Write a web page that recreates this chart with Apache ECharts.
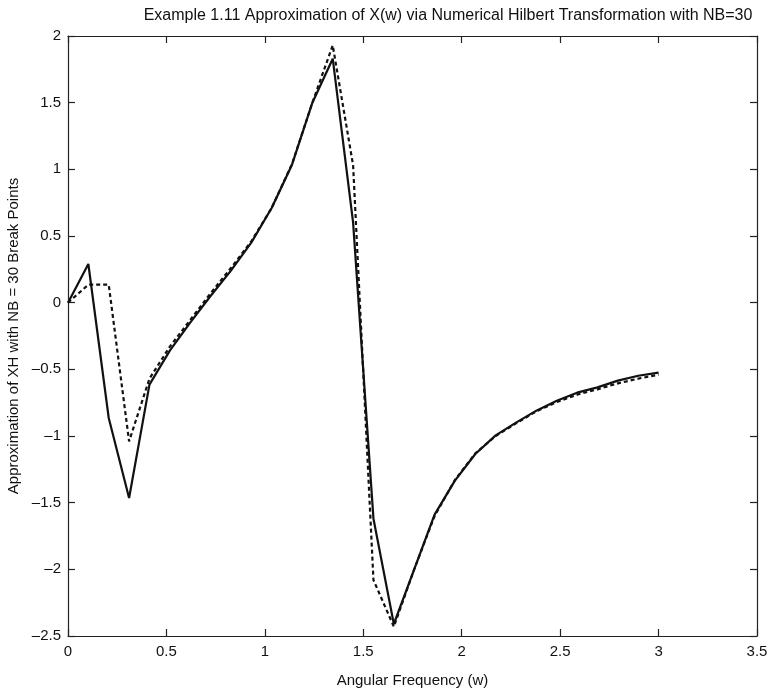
<!DOCTYPE html>
<html>
<head>
<meta charset="utf-8">
<script src="https://cdn.jsdelivr.net/npm/echarts@6/dist/echarts.min.js"></script>
<style>
  html, body { margin: 0; padding: 0; background: #fff; }
  #chart { width: 772px; height: 695px; }
</style>
</head>
<body>
<div id="chart"></div>
<script>
var titleText = 'Example 1.11 Approximation of X(w) via Numerical Hilbert Transformation with NB=30';
var xAxisName = 'Angular Frequency (w)';
var yAxisName = 'Approximation of XH with NB = 30 Break Points';

var freq = [0, 0.1034, 0.2069, 0.3103, 0.4138, 0.5172, 0.6207, 0.7241, 0.8276, 0.9310,
            1.0345, 1.1379, 1.2414, 1.3448, 1.4483, 1.5517, 1.6552, 1.7586, 1.8621, 1.9655,
            2.0690, 2.1724, 2.2759, 2.3793, 2.4828, 2.5862, 2.6897, 2.7931, 2.8966, 3.0];

var approxValues = [0, 0.29, -0.865, -1.465, -0.615, -0.36, -0.15, 0.05, 0.24, 0.45,
                    0.71, 1.035, 1.5, 1.83, 0.6, -1.62, -2.41, -2.0, -1.59, -1.335,
                    -1.135, -0.995, -0.9, -0.81, -0.735, -0.675, -0.635, -0.585, -0.548, -0.525];

var exactValues = [0, 0.135, 0.135, -1.04, -0.57, -0.33, -0.13, 0.07, 0.26, 0.46,
                   0.71, 1.04, 1.5, 1.93, 1.03, -2.08, -2.43, -2.0, -1.6, -1.33,
                   -1.13, -1.0, -0.905, -0.815, -0.745, -0.69, -0.65, -0.605, -0.57, -0.54];

function pairs(xs, ys) {
  return xs.map(function (x, i) { return [x, ys[i]]; });
}
function fmt(v) {
  var s = String(Math.round(v * 100) / 100);
  return s.replace('-', '\u2013');
}

var font = 'Liberation Sans, Arial, Helvetica, sans-serif';
var axisLine = { show: true, onZero: false, lineStyle: { color: '#222', width: 1.2 } };
var tick = { show: true, inside: true, length: 7, lineStyle: { color: '#222', width: 1.2 } };

var chart = echarts.init(document.getElementById('chart'), null, { renderer: 'canvas' });
chart.setOption({
  animation: false,
  backgroundColor: '#fff',
  title: {
    text: titleText,
    left: 443, top: 3, textAlign: 'center',
    textStyle: { fontFamily: font, fontSize: 16, fontWeight: 'normal', color: '#111' }
  },
  grid: { left: 68, right: 15, top: 36, bottom: 59, containLabel: false, outerBoundsMode: 'none' },
  xAxis: [{
    type: 'value', min: 0, max: 3.5, interval: 0.5, position: 'bottom',
    name: xAxisName, nameLocation: 'middle', nameGap: 37,
    nameTextStyle: { fontFamily: font, fontSize: 15, color: '#111' },
    axisLine: axisLine, axisTick: tick, splitLine: { show: false },
    axisLabel: { fontFamily: font, fontSize: 15, color: '#111', margin: 8, formatter: fmt }
  }, {
    type: 'value', min: 0, max: 3.5, interval: 0.5, position: 'top',
    axisLine: axisLine, axisTick: tick, splitLine: { show: false },
    axisLabel: { show: false }
  }],
  yAxis: [{
    type: 'value', min: -2.5, max: 2, interval: 0.5, position: 'left',
    name: yAxisName, nameLocation: 'middle', nameGap: 47, nameRotate: 90,
    nameTextStyle: { fontFamily: font, fontSize: 15, color: '#111' },
    axisLine: axisLine, axisTick: tick, splitLine: { show: false },
    axisLabel: { fontFamily: font, fontSize: 15, color: '#111', margin: 7, formatter: fmt }
  }, {
    type: 'value', min: -2.5, max: 2, interval: 0.5, position: 'right',
    axisLine: axisLine, axisTick: tick, splitLine: { show: false },
    axisLabel: { show: false }
  }],
  series: [{
    name: 'Approximation', type: 'line', xAxisIndex: 0, yAxisIndex: 0,
    data: pairs(freq, approxValues), symbol: 'none', smooth: false,
    lineStyle: { color: '#111', width: 2.2, type: 'solid' }, z: 3
  }, {
    name: 'Exact', type: 'line', xAxisIndex: 0, yAxisIndex: 0,
    data: pairs(freq, exactValues), symbol: 'none', smooth: false,
    lineStyle: { color: '#111', width: 2.2, type: [4, 3] }, z: 2
  }]
});
</script>
</body>
</html>
